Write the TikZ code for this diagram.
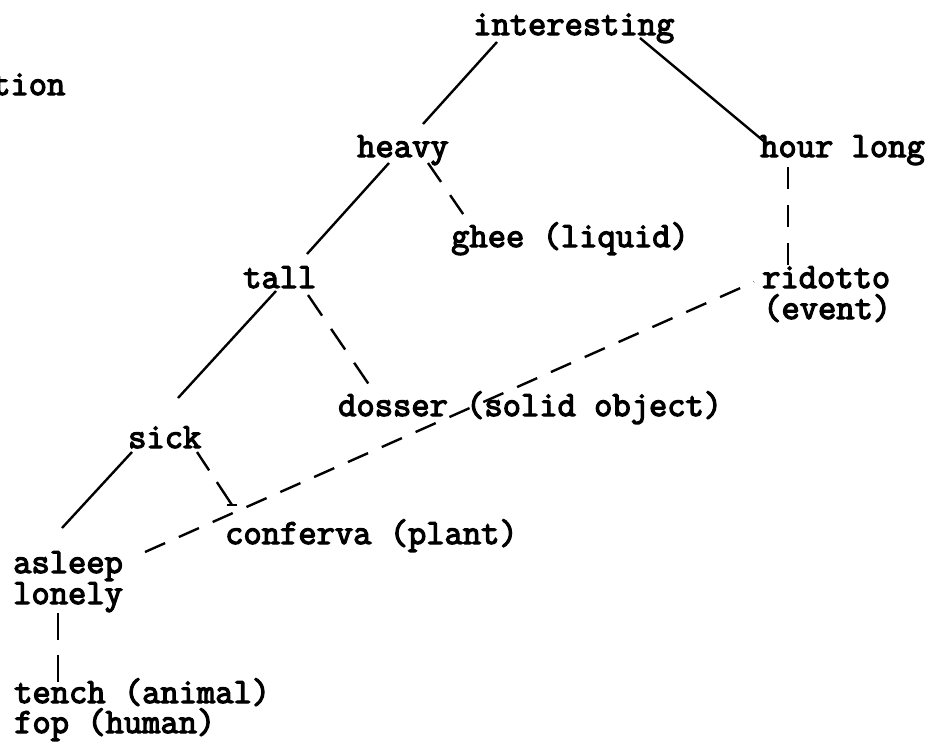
\documentclass[tikz,border=0pt]{standalone}
\usepackage{fontspec}
\newfontfamily\treefont{Latin Modern Mono}[FakeBold=3.5]
\begin{document}
\begin{tikzpicture}[x=1pt,y=-1pt,
  word/.style={anchor=base west,inner sep=0pt,font=\treefont\fontsize{35.5}{31}\selectfont,align=left},
  solidlink/.style={line width=2.4pt},
  dashlink/.style={line width=2.4pt,dash pattern=on 23pt off 16pt}]
\useasboundingbox (0,0) rectangle (938,742);
% words
\node[word] (interesting) at (473,35) {interesting};
\node[word] (tion) at (-8,95) {tion};
\node[word] (heavy) at (357,157) {heavy};
\node[word] (hour) at (760,157) {hour long};
\node[word] (ghee) at (451,247) {ghee (liquid)};
\node[word] (tall) at (243,288) {tall};
\node[word] (ridotto) at (762,288) {ridotto};
\node[word] (event) at (763,319) {(event)};
\node[word] (dosser) at (338,416) {dosser (solid object)};
\node[word] (sick) at (128,448) {sick};
\node[word] (conferva) at (225,544) {conferva (plant)};
\node[word] (asleep) at (13,573) {asleep};
\node[word] (lonely) at (13,604) {lonely};
\node[word] (tench) at (14,703) {tench (animal)};
\node[word] (fop) at (14,733) {fop (human)};
% connector ends
\coordinate (i1) at (497,42);
\coordinate (h1) at (423,124);
\coordinate (i2) at (640,38);
\coordinate (o1) at (766,143);
\coordinate (h2) at (389,163);
\coordinate (t1) at (307,254);
\coordinate (h3) at (428,163);
\coordinate (g1) at (470,224);
\coordinate (o2) at (788,167);
\coordinate (r1) at (788,265);
\coordinate (t2) at (276,291);
\coordinate (s1) at (178,398);
\coordinate (t3) at (308,295);
\coordinate (d1) at (372,389);
\coordinate (s2) at (132,452);
\coordinate (a1) at (62,528);
\coordinate (s3) at (197,452);
\coordinate (c1) at (232,505);
\coordinate (a2) at (145,552);
\coordinate (r2) at (754,282);
\coordinate (l1) at (58,613);
\coordinate (e1) at (58,688);
% connectors
\draw[solidlink] (i1) -- (h1);
\draw[solidlink] (i2) -- (o1);
\draw[solidlink] (h2) -- (t1);
\draw[dashlink] (h3) -- (g1);
\draw[dashlink,dash pattern=on 22pt off 16pt] (o2) -- (r1);
\draw[solidlink] (t2) -- (s1);
\draw[dashlink,dash pattern=on 25pt off 16pt] (t3) -- (d1);
\draw[solidlink] (s2) -- (a1);
\draw[dashlink,dash pattern=on 22pt off 14pt on 30pt off 10pt] (s3) -- (c1);
\draw[line width=2.4pt] ([xshift=-5pt]c1) -- ([xshift=5pt]c1);
\draw[dashlink,dash pattern=on 22pt off 15pt] (a2) -- (r2);
\draw[dashlink,dash pattern=on 27pt off 15pt] (l1) -- (e1);
\end{tikzpicture}
\end{document}
